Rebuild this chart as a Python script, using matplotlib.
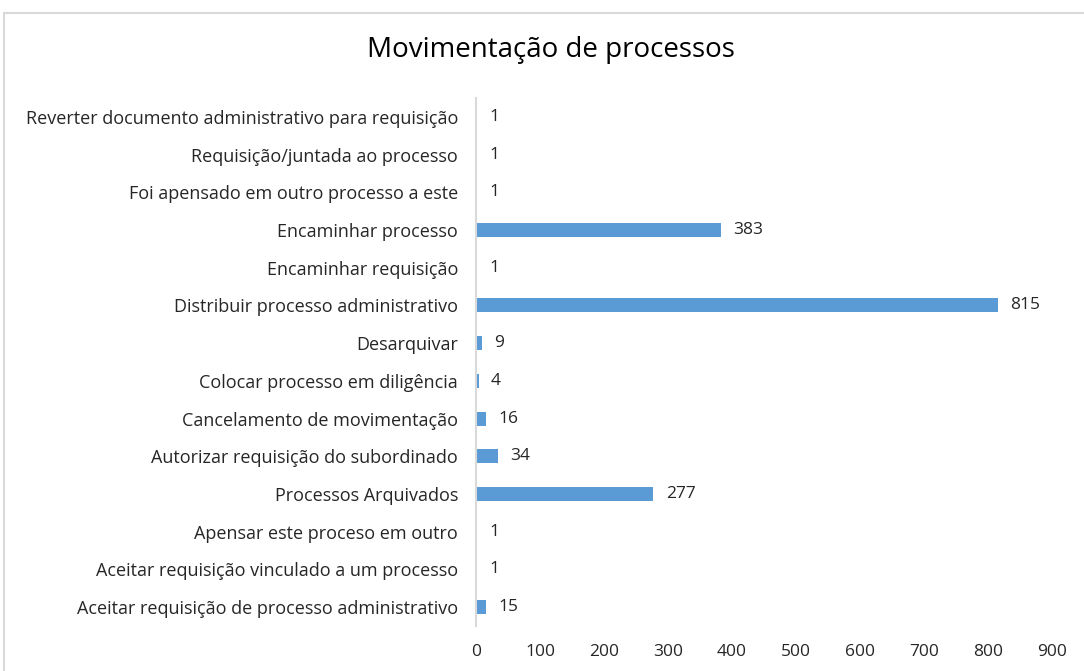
import matplotlib.pyplot as plt
from matplotlib.patches import Rectangle

# Categories listed bottom to top, as drawn
categories = [
    'Aceitar requisição de processo administrativo',
    'Aceitar requisição vinculado a um processo',
    'Apensar este proceso em outro',
    'Processos Arquivados',
    'Autorizar requisição do subordinado',
    'Cancelamento de movimentação',
    'Colocar processo em diligência',
    'Desarquivar',
    'Distribuir processo administrativo',
    'Encaminhar requisição',
    'Encaminhar processo',
    'Foi apensado em outro processo a este',
    'Requisição/juntada ao processo',
    'Reverter documento administrativo para requisição',
]
values = [15, 1, 1, 277, 34, 16, 4, 9, 815, 1, 383, 1, 1, 1]
x_ticks = [0, 100, 200, 300, 400, 500, 600, 700, 800, 900]

plt.rcParams['font.family'] = ['Open Sans', 'DejaVu Sans']
text_color = '#262626'
bar_color = '#5B9BD5'

fig = plt.figure(figsize=(10.84, 6.71), dpi=100)
ax = fig.add_axes([0.4391, 0.0673, 0.5314, 0.7864])

# chart border (cropped at right and bottom in the reference)
fig.patches.append(Rectangle((4 / 1084, -0.1), 1.2, 1 - 13 / 671 + 0.1,
                             transform=fig.transFigure, fill=False,
                             edgecolor='#D9D9D9', linewidth=1.5))

pos = range(len(categories))
ax.barh(pos, values, height=0.37, color=bar_color)
for p, v in zip(pos, values):
    ax.annotate(str(v), (v, p), xytext=(9, 0), textcoords='offset points',
                va='center', ha='left', fontsize=12.5, color=text_color)

ax.set_xlim(0, 900)
ax.set_ylim(-0.5, len(categories) - 0.5)
ax.set_xticks(x_ticks)
ax.set_yticks(list(pos))
ax.set_yticklabels(categories)
ax.tick_params(axis='both', length=0, colors=text_color)
ax.tick_params(axis='y', pad=13, labelsize=13)
ax.tick_params(axis='x', pad=13, labelsize=12.5)
for s in ['top', 'right', 'bottom']:
    ax.spines[s].set_visible(False)
ax.spines['left'].set_color('#D9D9D9')
ax.spines['left'].set_linewidth(1.5)

fig.text(551 / 1084, 1 - 50 / 671, 'Movimentação de processos', ha='center', va='center',
         fontsize=20, color='black')

fig.savefig('out.png', dpi=100)
